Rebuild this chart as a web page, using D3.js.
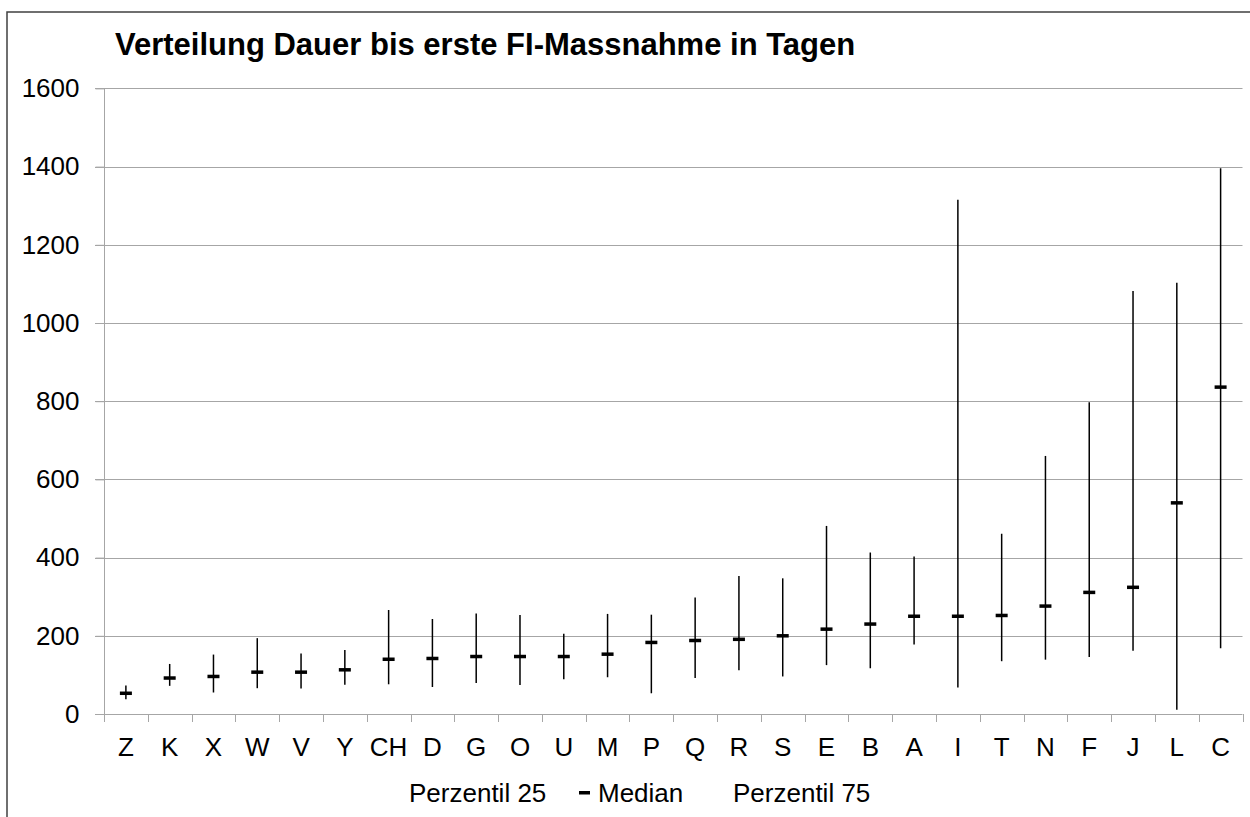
<!DOCTYPE html>
<html>
<head>
<meta charset="utf-8">
<script src="https://cdn.jsdelivr.net/npm/d3@7"></script>
<style>
  html, body { margin: 0; padding: 0; background: #fff; }
  svg { display: block; }
  text { font-family: "Liberation Sans", Arial, sans-serif; fill: #000; }
</style>
</head>
<body>
<svg id="chart" width="1250" height="817"></svg>
<script>
const categories = ["Z","K","X","W","V","Y","CH","D","G","O","U","M","P","Q","R","S","E","B","A","I","T","N","F","J","L","C"];
const perzentil25 = [38,72,55,66,65,75,76,69,79,74,89,94,53,92,112,96,125,117,178,68,135,139,146,162,11,168];
const median      = [53,92,96,107,107,113,140,142,147,147,147,153,183,188,191,200,217,230,250,250,252,276,311,324,540,836];
const perzentil75 = [73,128,152,194,155,164,266,243,257,253,205,256,254,298,353,347,481,413,403,1315,461,660,797,1082,1103,1396];
const yTicks = [0,200,400,600,800,1000,1200,1400,1600];
const titleText = "Verteilung Dauer bis erste FI-Massnahme in Tagen";
const legendLabels = ["Perzentil 25", "Median", "Perzentil 75"];

(function () {
const svg = d3.select("#chart");
const W = 1250, H = 817;
const pLeft = 104, pRight = 1242.5, pTop = 88.4, pBottom = 714;

svg.append("rect").attr("x", 0).attr("y", 0).attr("width", W).attr("height", H).attr("fill", "#fff");
svg.append("rect").attr("x", 7).attr("y", 12).attr("width", W + 20).attr("height", H + 20)
  .attr("fill", "none").attr("stroke", "#404040").attr("stroke-width", 1.5);

const x = d3.scaleBand().domain(categories).range([pLeft, pRight]).paddingInner(0).paddingOuter(0);
const y = d3.scaleLinear().domain([0, 1600]).range([pBottom, pTop]);

svg.append("g").selectAll("line").data(yTicks.filter(d => d > 0)).join("line")
  .attr("x1", pLeft - 9).attr("x2", pRight)
  .attr("y1", d => Math.round(y(d)) + 0.5).attr("y2", d => Math.round(y(d)) + 0.5)
  .attr("stroke", "#a6a6a6").attr("stroke-width", 1);

const yAxis = d3.axisLeft(y).tickValues(yTicks).tickFormat(d3.format("d")).tickSize(9).tickPadding(16);
const gy = svg.append("g").attr("transform", `translate(${pLeft + 0.5},0)`).call(yAxis);
gy.select(".domain").attr("stroke", "#a6a6a6").attr("d", `M0,${pTop}V${pBottom}`);
gy.selectAll(".tick line").attr("stroke", "#a6a6a6");
gy.selectAll(".tick text").attr("font-size", 26).attr("font-family", "Liberation Sans, Arial, sans-serif").attr("fill", "#000");

const xAxis = d3.axisBottom(x).tickSize(0).tickPadding(17);
const gx = svg.append("g").attr("transform", `translate(0,${Math.round(pBottom) + 0.5})`).call(xAxis);
gx.select(".domain").attr("stroke", "#a6a6a6").attr("d", `M${pLeft - 9},0H${pRight}`);
gx.selectAll(".tick text").attr("font-size", 26).attr("y", 41).attr("dy", 0)
  .attr("font-family", "Liberation Sans, Arial, sans-serif").attr("fill", "#000");
const bounds = categories.map(c => x(c)).concat([pRight]);
svg.append("g").selectAll("line").data(bounds).join("line")
  .attr("x1", d => Math.round(d) + 0.5).attr("x2", d => Math.round(d) + 0.5)
  .attr("y1", pBottom).attr("y2", pBottom + 8)
  .attr("stroke", "#a6a6a6").attr("stroke-width", 1);

const cx = c => x(c) + x.bandwidth() / 2;
svg.append("g").selectAll("line").data(categories).join("line")
  .attr("x1", c => cx(c)).attr("x2", c => cx(c))
  .attr("y1", (c, i) => y(perzentil25[i])).attr("y2", (c, i) => y(perzentil75[i]))
  .attr("stroke", "#000").attr("stroke-width", 1.5);

svg.append("g").selectAll("rect").data(categories).join("rect")
  .attr("x", c => cx(c) - 6).attr("width", 12)
  .attr("y", (c, i) => y(median[i]) - 1.75).attr("height", 3.5)
  .attr("fill", "#000");

svg.append("text").attr("x", 115).attr("y", 55)
  .attr("font-size", 31).attr("font-weight", "bold").text(titleText);

const lg = svg.append("g");
lg.append("text").attr("x", 409).attr("y", 802).attr("font-size", 26).text(legendLabels[0]);
lg.append("rect").attr("x", 579).attr("y", 791).attr("width", 11).attr("height", 3.5).attr("fill", "#000");
lg.append("text").attr("x", 598).attr("y", 802).attr("font-size", 26).text(legendLabels[1]);
lg.append("text").attr("x", 733).attr("y", 802).attr("font-size", 26).text(legendLabels[2]);
})();
</script>
</body>
</html>
